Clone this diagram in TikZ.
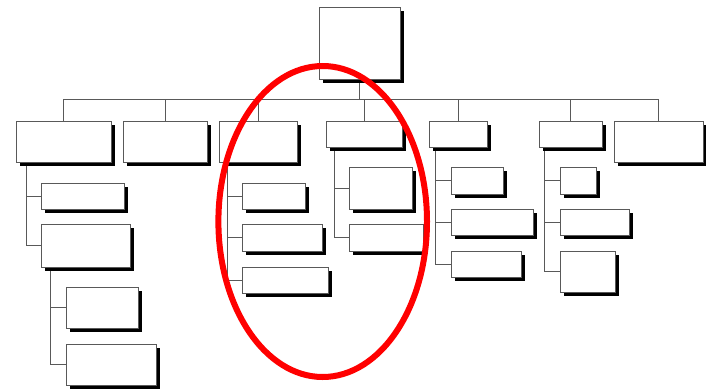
\documentclass[tikz,border=0pt]{standalone}
\usetikzlibrary{shadows,backgrounds}
\tikzset{
  ob/.style={draw=black!65, line width=0.9pt, fill=white, inner sep=0pt, outer sep=0pt, anchor=north west,
    drop shadow={shadow xshift=3.5pt, shadow yshift=-3.5pt, fill=black, opacity=1}},
  conn/.style={draw=black!65, line width=0.9pt},
  hilite/.style={draw=red, line width=6pt}
}
\newcommand\obox[5]{\node[ob, minimum width={(#4)-(#2)}, minimum height={(#5)-(#3)}] (#1) at (#2,#3) {};}
\begin{document}
\begin{tikzpicture}[x=1pt,y=-1pt]
\useasboundingbox (0,0) rectangle (706,388);
% top
\obox{top}{319}{7}{400}{79}
% level 1
\obox{b1}{16}{121}{111}{162}
\obox{b2}{123}{121}{207}{162}
\obox{b3}{219}{121}{297}{162}
\obox{b4}{326}{121}{402}{147}
\obox{b5}{429}{121}{487}{147}
\obox{b6}{539}{121}{602}{147}
\obox{b7}{614}{121}{703}{162}
% children of b1
\obox{b1a}{41}{183}{124}{209}
\obox{b1b}{41}{224}{130}{267}
\obox{b1bi}{66}{287}{138}{328}
\obox{b1bii}{66}{344}{156}{385}
% children of b3
\obox{b3a}{242}{183}{305}{209}
\obox{b3b}{242}{224}{322}{251}
\obox{b3c}{242}{267}{328}{293}
% children of b4
\obox{b4a}{349}{167}{412}{209}
\obox{b4b}{349}{224}{423}{251}
% children of b5
\obox{b5a}{451}{167}{503}{194}
\obox{b5b}{451}{209}{533}{235}
\obox{b5c}{451}{251}{521}{277}
% children of b6
\obox{b6a}{560}{167}{596}{194}
\obox{b6b}{560}{209}{629}{235}
\obox{b6c}{560}{251}{615}{292}
% spine coordinates
\coordinate (busL) at (63.5,99);
\coordinate (busR) at (658.5,99);
\coordinate (s1) at (26,162);
\coordinate (s1b) at (50,267);
\coordinate (s3) at (227.7,162);
\coordinate (s4) at (334,147);
\coordinate (s5) at (435.7,147);
\coordinate (s6) at (544.7,147);
\begin{scope}[on background layer]
  \draw[conn] (busL) -- (busR);
  \draw[conn] (top.south) -- (top.south |- busL);
  \foreach \b in {b1,b2,b3,b4,b5,b6,b7} \draw[conn] (\b.north) -- (\b.north |- busL);
  \draw[conn] (s1) |- (b1a.west);
  \draw[conn] (s1) |- (b1b.west);
  \draw[conn] (s1b) |- (b1bi.west);
  \draw[conn] (s1b) |- (b1bii.west);
  \draw[conn] (s3) |- (b3a.west);
  \draw[conn] (s3) |- (b3b.west);
  \draw[conn] (s3) |- (b3c.west);
  \draw[conn] (s4) |- (b4a.west);
  \draw[conn] (s4) |- (b4b.west);
  \draw[conn] (s5) |- (b5a.west);
  \draw[conn] (s5) |- (b5b.west);
  \draw[conn] (s5) |- (b5c.west);
  \draw[conn] (s6) |- (b6a.west);
  \draw[conn] (s6) |- (b6b.west);
  \draw[conn] (s6) |- (b6c.west);
\end{scope}
% highlight ellipse
\coordinate (hl) at (322.7,221.5);
\draw[hilite] (hl) ellipse [x radius=104.3, y radius=155.5];
\end{tikzpicture}
\end{document}
